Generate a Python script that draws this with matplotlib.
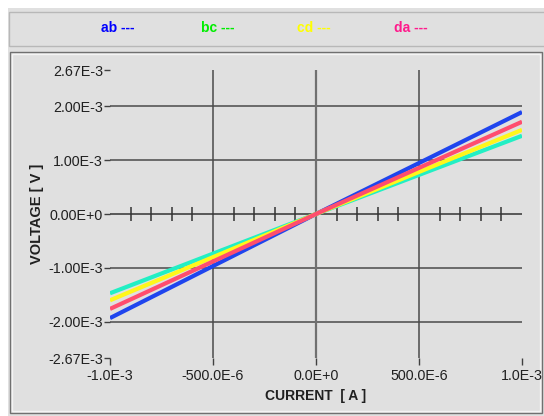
import matplotlib
matplotlib.use("Agg")
import matplotlib.pyplot as plt
from matplotlib.patches import Rectangle
import numpy as np

plt.rcParams['font.family'] = ['Liberation Sans', 'DejaVu Sans']

# ---- data ----
current = [-1.0e-3, 0.0, 1.0e-3]
v_ab = [-1.93e-3, 0.0, 1.89e-3]
v_bc = [-1.47e-3, 0.0, 1.45e-3]
v_cd = [-1.60e-3, 0.0, 1.56e-3]
v_da = [-1.76e-3, 0.0, 1.71e-3]

series_names = ["ab", "bc", "cd", "da"]
legend_colors = ["#0000ff", "#00ee00", "#ffff00", "#ff1a8c"]
line_colors = {"ab": "#1f45ee", "bc": "#22efc4", "cd": "#fff71a", "da": "#ff4d6e"}

x_ticks = [-1.0e-3, -500e-6, 0.0, 500e-6, 1.0e-3]
x_ticklabels = ["-1.0E-3", "-500.0E-6", "0.0E+0", "500.0E-6", "1.0E-3"]
y_ticks = [-2.67e-3, -2.0e-3, -1.0e-3, 0.0, 1.0e-3, 2.0e-3, 2.67e-3]
y_ticklabels = ["-2.67E-3", "-2.00E-3", "-1.00E-3", "0.00E+0", "1.00E-3", "2.00E-3", "2.67E-3"]
x_grid = [-500e-6, 0.0, 500e-6]
y_grid = [-2.0e-3, -1.0e-3, 1.0e-3, 2.0e-3]
minor_step = 100e-6

W, H = 544, 416
fig = plt.figure(figsize=(W / 100, H / 100), dpi=100, facecolor="white")


def fx(px):
    return px / W


def fy(py):
    return 1 - py / H


def rect(x0, y0, x1, y1, **kw):
    r = Rectangle((fx(x0), fy(y1)), fx(x1) - fx(x0), fy(y0) - fy(y1),
                  transform=fig.transFigure, **kw)
    fig.add_artist(r)


# background panels
rect(8, 8, 544, 416, facecolor="#e0e0e0", edgecolor="none", zorder=-3)
rect(8.5, 12.5, 546, 45.5, facecolor="#e0e0e0", edgecolor="#b8b8b8", lw=1, zorder=-2)
rect(9.5, 51.5, 541.5, 412.5, facecolor="#e0e0e0", edgecolor="#707070", lw=1, zorder=-2)
rect(11.5, 53.5, 539.5, 410.5, facecolor="none", edgecolor="#f4f4f4", lw=1, zorder=-1)

# legend texts
leg_x = [101, 201, 297, 394]
for name, col, lx in zip(series_names, legend_colors, leg_x):
    fig.text(fx(lx), fy(28), name + " ---", color=col, fontsize=10,
             fontweight="bold", ha="left", va="center", zorder=3)

# axes
left, right, top, bottom = 110, 522, 70, 358
ax = fig.add_axes([fx(left), fy(bottom), fx(right) - fx(left), fy(top) - fy(bottom)])
ax.set_zorder(5)
ax.set_facecolor("none")
for s in ax.spines.values():
    s.set_visible(False)
ax.set_xlim(-1.0e-3, 1.0e-3)
ax.set_ylim(-2.67e-3, 2.67e-3)

ax.set_xticks(x_ticks)
ax.set_xticklabels(x_ticklabels)
ax.set_yticks(y_ticks)
ax.set_yticklabels(y_ticklabels)
ax.tick_params(axis="x", direction="out", length=5, width=1, color="#404040",
               pad=3, labelsize=10.3, labelcolor="#202020")
ax.tick_params(axis="y", direction="out", length=4, width=1, color="#404040",
               pad=1, labelsize=10.3, labelcolor="#202020")

for yg in y_grid:
    ax.axhline(yg, color="#4a4a4a", lw=1.1, zorder=1)
for xg in x_grid:
    ax.axvline(xg, color="#707070" if xg == 0 else "#4a4a4a",
               lw=1.6 if xg == 0 else 1.1, zorder=1)
ax.axhline(0.0, color="#333333", lw=1.1, zorder=1)

# minor ticks along zero line
mt = np.arange(-9, 10) * minor_step
mt = mt[(np.abs(mt) > 1e-9) & (np.abs(np.abs(mt) - 500e-6) > 1e-9)]
ax.plot(mt, np.zeros_like(mt), linestyle="none", marker="|", markersize=10,
        markeredgewidth=1.1, color="#333333", zorder=1)

# data lines
for name, vals in [("ab", v_ab), ("bc", v_bc), ("cd", v_cd), ("da", v_da)]:
    ax.plot(current, vals, color=line_colors[name], lw=3.0,
            solid_capstyle="butt", zorder=3)

ax.set_xlabel("CURRENT  [ A ]", fontsize=10, fontweight="bold", color="#202020",
              labelpad=4)
ax.set_ylabel("VOLTAGE [ V ]", fontsize=10.5, fontweight="bold", color="#202020")
ax.yaxis.set_label_coords((44 - left) / (right - left), (bottom - 214) / (bottom - top))

fig.savefig("out.png", dpi=100, facecolor="white")
